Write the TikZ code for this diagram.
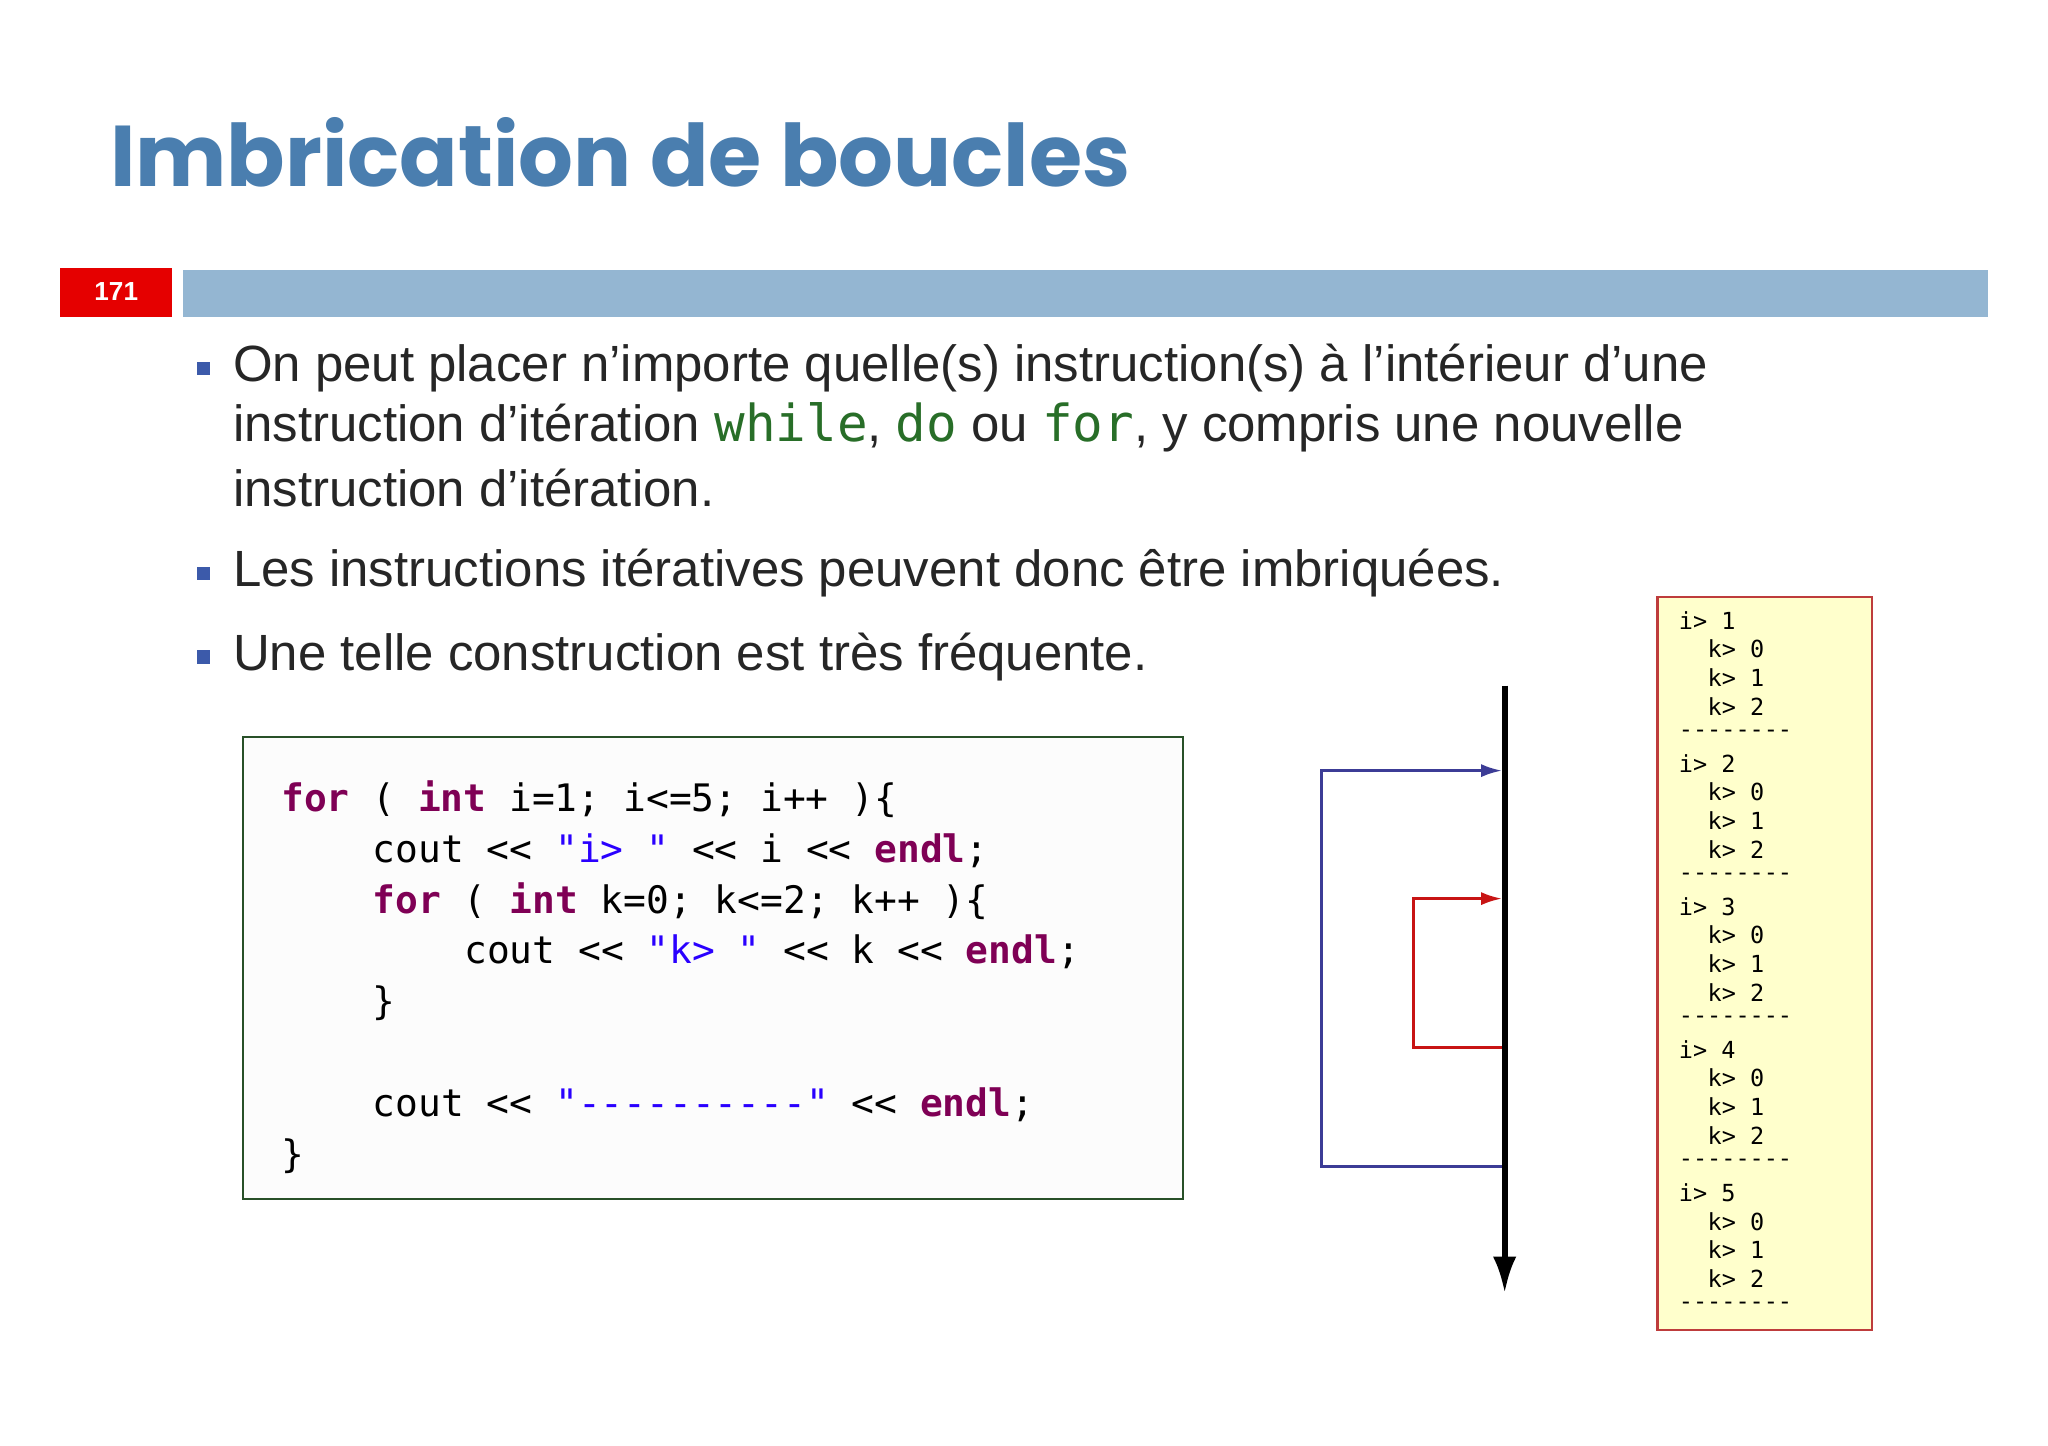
\documentclass[tikz,border=0pt]{standalone}
\usepackage{fontspec}
\setmainfont{Liberation Sans}
\newfontfamily\titlefont{Poppins}
\newfontfamily\codefont{DejaVu Sans Mono}
\usetikzlibrary{arrows.meta}
\definecolor{titleblue}{RGB}{74,126,175}
\definecolor{barblue}{RGB}{148,182,210}
\definecolor{bulblue}{RGB}{60,90,170}
\definecolor{kw}{RGB}{127,0,85}
\definecolor{str}{RGB}{42,0,255}
\definecolor{grn}{RGB}{40,110,40}
\definecolor{loopblue}{RGB}{60,60,150}
\definecolor{loopred}{RGB}{200,20,20}
\definecolor{outfill}{RGB}{255,255,204}
\definecolor{outborder}{RGB}{190,60,60}
\definecolor{boxgreen}{RGB}{40,80,40}
\newcommand{\kwd}[1]{{\bfseries\color{kw}#1}}
\newcommand{\strg}[1]{{\color{str}#1}}
\newcommand{\ic}[1]{{\codefont\color{grn}#1}}
\tikzset{
  body/.style={anchor=west,font=\fontsize{19.5}{23}\selectfont,text=black!85,inner sep=0},
  bul/.style={fill=bulblue,minimum size=5pt,inner sep=0},
  code/.style={anchor=west,font=\codefont\fontsize{14.5}{17}\selectfont,inner sep=0},
  outtxt/.style={anchor=west,font=\codefont\fontsize{9}{11}\selectfont,inner sep=0},
  flow/.style={line width=1.1pt,-{Latex[length=8pt,width=5pt]}}
}
\begin{document}
\begin{tikzpicture}[x=0.5pt,y=-0.5pt]
\useasboundingbox (0,0) rectangle (1568,1107);
\fill[white] (0,0) rectangle (1568,1107);
\node[anchor=west,inner sep=0,font=\titlefont\bfseries\fontsize{33}{36}\selectfont,text=titleblue] (title) at (84,117) {Imbrication de boucles};
\fill[red!90!black] (46,205) rectangle (132,243);
\node[text=white,font=\bfseries\fontsize{10}{12}\selectfont] (num) at (89,223) {171};
\fill[barblue] (140,207) rectangle (1522,243);
% bullets
\node[bul] (b1) at (156,282) {};
\node[body] (t1) at (178,282) {On peut placer n'importe quelle(s) instruction(s) à l'intérieur d'une};
\node[body] (t1b) at (178,327) {instruction d'itération \ic{while}, \ic{do} ou \ic{for}, y compris une nouvelle};
\node[body] (t1c) at (178,374) {instruction d'itération.};
\node[bul] (b2) at (156,439) {};
\node[body] (t2) at (178,439) {Les instructions itératives peuvent donc être imbriquées.};
\node[bul] (b3) at (156,503) {};
\node[body] (t3) at (178,503) {Une telle construction est très fréquente.};
% code box
\draw[boxgreen,fill=black!1,line width=0.8pt] (186,564) rectangle (906,918);
\node[code] (c1) at (215,612) {\kwd{for} ( \kwd{int} i=1; i<=5; i++ )\{};
\node[code] (c2) at (285,651) {cout << \strg{"i> "} << i << \kwd{endl};};
\node[code] (c3) at (285,690) {\kwd{for} ( \kwd{int} k=0; k<=2; k++ )\{};
\node[code] (c4) at (355,729) {cout << \strg{"k> "} << k << \kwd{endl};};
\node[code] (c5) at (285,768) {\}};
\node[code] (c6) at (285,846) {cout << \strg{"----------"} << \kwd{endl};};
\node[code] (c7) at (215,885) {\}};
% flow
\coordinate (top) at (1152,525);
\coordinate (bot) at (1152,990);
\draw[line width=2.2pt,-{Latex[length=14pt,width=9pt]}] (top) -- (bot);
\coordinate (bs) at (1150,893);
\coordinate (be) at (1150,590);
\draw[loopblue,flow] (bs) -- (1012,893) -- (1012,590) -- (be);
\coordinate (rs) at (1150,802);
\coordinate (re) at (1150,688);
\draw[loopred,flow] (rs) -- (1082,802) -- (1082,688) -- (re);
% output
\draw[outborder,fill=outfill,line width=0.8pt] (1269,457) rectangle (1433,1018);
\foreach \i [count=\n from 0] in {1,...,5}{
  \pgfmathsetmacro{\y}{475+\n*109.5}
  \node[outtxt] (o\i) at (1285,\y) {i> \i};
  \node[outtxt] at (1307,\y+22) {k> 0};
  \node[outtxt] at (1307,\y+44) {k> 1};
  \node[outtxt] at (1307,\y+66) {k> 2};
  \node[outtxt] at (1285,\y+87) {--------};
}
\end{tikzpicture}
\end{document}
